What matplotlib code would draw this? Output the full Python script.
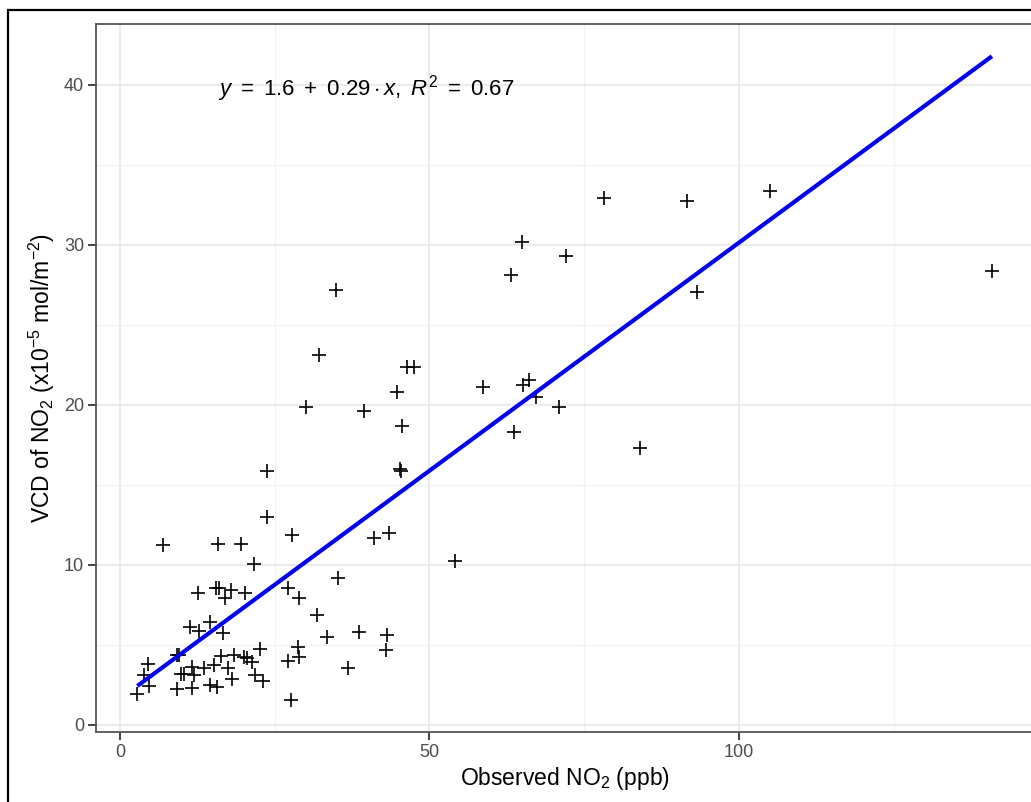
import numpy as np
import matplotlib
matplotlib.use("Agg")
import matplotlib.pyplot as plt
from matplotlib.patches import Rectangle
from matplotlib.ticker import MultipleLocator

plt.rcParams.update({
    "font.family": ["Liberation Sans", "DejaVu Sans"],
    "mathtext.fontset": "custom",
    "mathtext.rm": "Liberation Sans",
    "mathtext.it": "Liberation Sans:italic",
    "mathtext.bf": "Liberation Sans:bold",
})

# observed NO2 (ppb) vs satellite VCD of NO2 (x1e-5 mol/m2)
obs_no2 = [
    140.9, 105.0, 93.2, 91.6, 84.0, 78.2, 72.0, 70.9, 67.2, 66.1,
    65.1, 64.9, 63.6, 63.2, 58.7, 54.2, 47.5, 46.3, 45.5, 45.2,
    45.4, 44.7, 43.4, 43.1, 43.0, 41.0, 39.4, 38.6, 36.8, 35.3,
    34.9, 33.4, 32.1, 31.8, 30.0, 29.0, 28.8, 28.9, 27.8, 27.6,
    27.2, 27.2, 23.7, 23.7, 23.1, 22.7, 21.7, 21.8, 21.3, 20.5,
    20.0, 20.2, 19.5, 18.4, 18.1, 17.9, 17.5, 17.0, 16.7, 16.4,
    15.9, 16.0, 15.5, 15.6, 15.2, 14.6, 14.5, 13.5, 12.7, 12.6,
    11.9, 11.6, 11.7, 11.3, 10.3, 9.8, 9.2, 9.5, 9.2, 6.9,
    4.5, 3.9, 4.7, 2.8,
]
vcd_no2 = [
    28.4, 33.4, 27.05, 32.75, 17.3, 32.96, 29.3, 19.9, 20.5, 21.56,
    21.25, 30.2, 18.3, 28.1, 21.1, 10.25, 22.4, 22.4, 18.7, 16.0,
    15.9, 20.83, 12.0, 5.6, 4.69, 11.7, 19.6, 5.78, 3.58, 9.2,
    27.2, 5.48, 23.1, 6.88, 19.9, 7.96, 4.9, 4.27, 11.9, 1.56,
    8.56, 4.0, 15.9, 13.0, 2.72, 4.74, 10.08, 3.1, 3.93, 4.17,
    4.27, 8.25, 11.33, 4.37, 2.9, 8.44, 3.54, 7.93, 5.73, 4.29,
    11.3, 8.54, 8.54, 2.4, 3.75, 2.5, 6.43, 3.54, 5.88, 8.25,
    3.1, 3.62, 2.31, 6.15, 3.2, 3.2, 4.4, 4.4, 2.26, 11.25,
    3.82, 3.1, 2.41, 1.91,
]

# fitted line as drawn
fit_intercept = 1.64
fit_slope = 0.285

x = np.array(obs_no2)
y = np.array(vcd_no2)

fig = plt.figure(figsize=(10.31, 8.02), dpi=100)
ax = fig.add_axes([96 / 1031, 1 - 732 / 802, (1034 - 96) / 1031, (732 - 23.7) / 802])

ax.scatter(x, y, marker="+", s=110, color="black", linewidths=1.2, zorder=3)

xfit = np.array([x.min(), x.max()])
ax.plot(xfit, fit_intercept + fit_slope * xfit, color="#0000EE", lw=3, zorder=4,
        solid_capstyle="butt")

ax.set_xlim(-3.88, 147.7)
ax.set_ylim(-0.44, 43.83)
ax.xaxis.set_major_locator(MultipleLocator(50))
ax.xaxis.set_minor_locator(MultipleLocator(25))
ax.yaxis.set_major_locator(MultipleLocator(10))
ax.yaxis.set_minor_locator(MultipleLocator(5))
ax.grid(which="major", color="#EBEBEB", lw=1.5, zorder=0)
ax.grid(which="minor", color="#F2F2F2", lw=0.9, zorder=0)
ax.set_axisbelow(True)
ax.tick_params(which="major", length=5.5, width=1.3, color="#333333",
               labelsize=13, labelcolor="#4D4D4D", pad=3)
ax.tick_params(which="minor", length=0)
for s in ax.spines.values():
    s.set_edgecolor("#555555")
    s.set_linewidth(1.3)

ax.set_xlabel("Observed NO$_2$ (ppb)", fontsize=16.5, labelpad=3)
ax.set_ylabel("VCD of NO$_2$ (x10$^{-5}$ mol/m$^{-2}$)", fontsize=16.5, labelpad=5)

ax.text(15.9, 39.8, r"$y\ =\ 1.6\ +\ 0.29\cdot x,\ R^2\ =\ 0.67$",
        fontsize=16, ha="left", va="center")

# outer frame of the exported picture
fig.patches.append(Rectangle((8.3 / 1031, -0.05), 1.2, 1 - 10 / 802 + 0.05,
                             transform=fig.transFigure, fill=False,
                             edgecolor="black", lw=1.6))

fig.savefig("out.png", dpi=100)
